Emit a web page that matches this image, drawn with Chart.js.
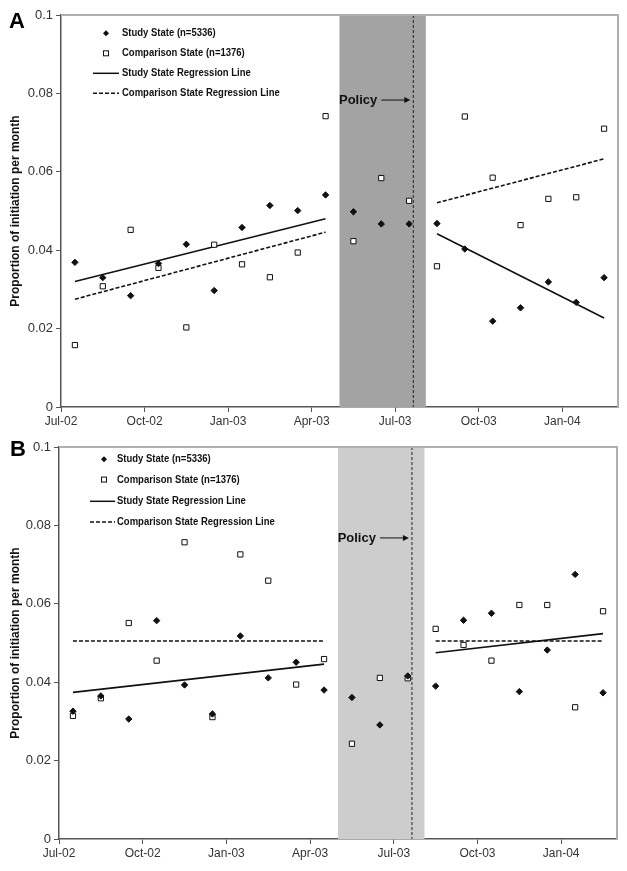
<!DOCTYPE html>
<html>
<head>
<meta charset="utf-8">
<script src="https://cdn.jsdelivr.net/npm/chart.js@4.4.0/dist/chart.umd.min.js"></script>
<style>
  body { margin: 0; background: #fff; }
  .panel { position: absolute; left: 0; width: 627px; }
  #panelA { top: 0; height: 435px; }
  #panelB { top: 435px; height: 436px; }
</style>
</head>
<body>
<div class="panel" id="panelA"><canvas id="chartA" width="627" height="435"></canvas></div>
<div class="panel" id="panelB"><canvas id="chartB" width="627" height="436"></canvas></div>
<script>
// months since Jul-02, points sit mid-month
const months = [0.5,1.5,2.5,3.5,4.5,5.5,6.5,7.5,8.5,9.5,10.5,11.5,12.5,13.5,14.5,15.5,16.5,17.5,18.5,19.5];
const tickVals = [0, 3, 6, 9, 12, 15, 18];
const tickLabels = ["Jul-02","Oct-02","Jan-03","Apr-03","Jul-03","Oct-03","Jan-04"];
const yTicks = [0, 0.02, 0.04, 0.06, 0.08, 0.1];

const legendLabels = ["Study State (n=5336)", "Comparison State (n=1376)", "Study State Regression Line", "Comparison State Regression Line"];

// policy window (months) and policy date
const windowStart = 10, windowEnd = 13.1, policyMonth = 12.65;

// panel A
const studyA = [0.0369,0.0330,0.0284,0.0366,0.0415,0.0297,0.0458,0.0514,0.0501,0.0541,0.0498,0.0467,0.0467,0.0468,0.0403,0.0219,0.0253,0.0319,0.0267,0.0330];
const compA  = [0.0158,0.0308,0.0452,0.0355,0.0203,0.0414,0.0364,0.0331,0.0394,0.0742,0.0423,0.0584,0.0526,0.0359,0.0741,0.0585,0.0464,0.0531,0.0535,0.0710];
const regMonthsPre = [0.5, 9.5];
const regMonthsPost = [13.5, 19.5];
const studyRegPreA  = [0.0320, 0.0480];
const compRegPreA   = [0.0275, 0.0446];
const studyRegPostA = [0.0442, 0.0227];
const compRegPostA  = [0.0521, 0.0633];

// panel B
const studyB = [0.0326,0.0365,0.0306,0.0557,0.0393,0.0319,0.0518,0.0411,0.0451,0.0380,0.0361,0.0291,0.0416,0.0390,0.0558,0.0576,0.0376,0.0482,0.0675,0.0373];
const compB  = [0.0314,0.0359,0.0551,0.0455,0.0757,0.0311,0.0726,0.0659,0.0394,0.0459,0.0243,0.0411,0.0410,0.0536,0.0495,0.0455,0.0597,0.0597,0.0336,0.0581];
const studyRegPreB  = [0.0374, 0.0446];
const compRegPreB   = [0.0505, 0.0505];
const studyRegPostB = [0.0475, 0.0524];
const compRegPostB  = [0.0505, 0.0505];

function pts(xs, ys) {
  return xs.map((x, i) => ({ x: x, y: ys[i] }));
}

const decorPlugin = {
  id: "decor",
  beforeDatasetsDraw(chart, args, o) {
    const { ctx, chartArea: a, scales: { x, y } } = chart;
    ctx.save();
    // shaded policy window
    ctx.fillStyle = o.shade;
    const x0 = x.getPixelForValue(windowStart), x1 = x.getPixelForValue(windowEnd);
    ctx.fillRect(x0, a.top, x1 - x0, a.bottom - a.top);
    // policy line
    const px = x.getPixelForValue(policyMonth);
    ctx.strokeStyle = "#222";
    ctx.lineWidth = 1;
    ctx.setLineDash([3, 2]);
    ctx.beginPath();
    ctx.moveTo(px, a.top);
    ctx.lineTo(px, a.bottom);
    ctx.stroke();
    ctx.setLineDash([]);
    // top / right frame
    ctx.strokeStyle = "#b0b0b0";
    ctx.lineWidth = 2;
    ctx.beginPath();
    ctx.moveTo(a.left, a.top);
    ctx.lineTo(a.right, a.top);
    ctx.lineTo(a.right, a.bottom);
    ctx.stroke();
    ctx.restore();
  },
  afterDraw(chart, args, o) {
    const { ctx, chartArea: a, scales: { x, y } } = chart;
    ctx.save();
    // Policy label and arrow
    const px = x.getPixelForValue(policyMonth);
    const py = y.getPixelForValue(o.policyY);
    ctx.fillStyle = "#111";
    ctx.font = "bold 13px 'Liberation Sans', Arial, sans-serif";
    ctx.textAlign = "right";
    ctx.textBaseline = "middle";
    ctx.fillText("Policy", px - 36, py);
    ctx.strokeStyle = "#111";
    ctx.lineWidth = 1;
    ctx.beginPath();
    ctx.moveTo(px - 32, py);
    ctx.lineTo(px - 8, py);
    ctx.stroke();
    ctx.beginPath();
    ctx.moveTo(px - 3, py);
    ctx.lineTo(px - 9, py - 3);
    ctx.lineTo(px - 9, py + 3);
    ctx.closePath();
    ctx.fill();

    // legend
    const L = o.legend;
    ctx.font = "bold 10px 'Liberation Sans Narrow', 'Arial Narrow', 'Liberation Sans', sans-serif";
    ctx.textAlign = "left";
    legendLabels.forEach((lab, i) => {
      const ry = a.top + L.rows[i];
      ctx.fillStyle = "#111";
      ctx.save();
      ctx.translate(a.left + L.text, ry);
      ctx.scale(0.95, 1.1);
      ctx.fillText(lab, 0, 0);
      ctx.restore();
      const mx = a.left + L.marker;
      if (i === 0) {
        ctx.beginPath();
        ctx.moveTo(mx, ry - 3); ctx.lineTo(mx + 3, ry); ctx.lineTo(mx, ry + 3); ctx.lineTo(mx - 3, ry);
        ctx.closePath();
        ctx.fill();
      } else if (i === 1) {
        ctx.fillStyle = "#fff";
        ctx.strokeStyle = "#111";
        ctx.lineWidth = 1;
        ctx.fillRect(mx - 2.5, ry - 2.5, 5, 5);
        ctx.strokeRect(mx - 2.5, ry - 2.5, 5, 5);
      } else {
        ctx.strokeStyle = "#111";
        ctx.lineWidth = 1.5;
        ctx.setLineDash(i === 3 ? [4, 2] : []);
        ctx.beginPath();
        ctx.moveTo(a.left + L.line0, ry);
        ctx.lineTo(a.left + L.line1, ry);
        ctx.stroke();
        ctx.setLineDash([]);
      }
    });

    // panel letter
    ctx.fillStyle = "#000";
    ctx.font = "bold 22px 'Liberation Sans', Arial, sans-serif";
    ctx.textAlign = "left";
    ctx.textBaseline = "alphabetic";
    ctx.fillText(o.letter, o.letterX, o.letterY);
    ctx.restore();
  }
};

function makeChart(id, p) {
  const ctx = document.getElementById(id).getContext("2d");
  const scatter = (data, style, bg) => ({
    type: "scatter",
    data: data,
    pointStyle: style,
    pointRadius: style === "rect" ? 3.7 : 3.2,
    pointBackgroundColor: bg,
    pointBorderColor: "#111",
    pointBorderWidth: 1,
    showLine: false,
    order: 1
  });
  const reg = (data, dash) => ({
    type: "line",
    data: data,
    borderColor: "#111",
    borderWidth: 1.6,
    borderDash: dash,
    pointRadius: 0,
    fill: false,
    order: 2
  });
  return new Chart(ctx, {
    type: "scatter",
    data: {
      datasets: [
        reg(pts(regMonthsPre, p.studyRegPre), []),
        reg(pts(regMonthsPre, p.compRegPre), [4, 2]),
        reg(pts(regMonthsPost, p.studyRegPost), []),
        reg(pts(regMonthsPost, p.compRegPost), [4, 2]),
        scatter(pts(months, p.study), "rectRot", "#111"),
        scatter(pts(months, p.comp), "rect", "#fff")
      ]
    },
    options: {
      responsive: false,
      animation: false,
      devicePixelRatio: 1,
      layout: { padding: { top: p.padTop, right: p.padRight, left: 0, bottom: 0 } },
      plugins: {
        legend: { display: false },
        tooltip: { enabled: false },
        decor: {
          shade: p.shade,
          policyY: p.policyY,
          legend: p.legend,
          letter: p.letter,
          letterX: p.letterX,
          letterY: p.letterY
        }
      },
      scales: {
        x: {
          type: "linear",
          min: 0,
          max: 20,
          afterBuildTicks: (s) => { s.ticks = tickVals.map(v => ({ value: v })); },
          afterFit: (s) => { s.height = p.xHeight; },
          ticks: {
            callback: (v) => tickLabels[tickVals.indexOf(v)],
            color: "#333",
            font: { family: "'Liberation Sans', Arial, sans-serif", size: 12 },
            maxRotation: 0,
            autoSkip: false,
            padding: 2
          },
          grid: { drawOnChartArea: false, tickLength: 5, color: "#555" },
          border: { color: "#555", width: 1.5 }
        },
        y: {
          min: 0,
          max: 0.1,
          afterBuildTicks: (s) => { s.ticks = yTicks.map(v => ({ value: v })); },
          afterFit: (s) => { s.width = p.yWidth; },
          ticks: {
            callback: (v) => String(v),
            color: "#333",
            font: { family: "'Liberation Sans', Arial, sans-serif", size: 13 },
            padding: 3
          },
          grid: { drawOnChartArea: false, tickLength: 5, color: "#555" },
          border: { color: "#555", width: 1.5 },
          title: {
            display: true,
            text: "Proportion of initiation per month",
            color: "#111",
            font: { family: "'Liberation Sans', Arial, sans-serif", size: 12, weight: "bold" },
            padding: { top: 8, bottom: 0 }
          }
        }
      }
    },
    plugins: [decorPlugin]
  });
}

makeChart("chartA", {
  study: studyA, comp: compA,
  studyRegPre: studyRegPreA, compRegPre: compRegPreA,
  studyRegPost: studyRegPostA, compRegPost: compRegPostA,
  shade: "#a3a3a3", policyY: 0.0783,
  padTop: 15, padRight: 9, xHeight: 28, yWidth: 61,
  legend: { marker: 45, text: 61, line0: 32, line1: 58, rows: [18.3, 38.3, 58.3, 78.3] },
  letter: "A", letterX: 9, letterY: 28
});

makeChart("chartB", {
  study: studyB, comp: compB,
  studyRegPre: studyRegPreB, compRegPre: compRegPreB,
  studyRegPost: studyRegPostB, compRegPost: compRegPostB,
  shade: "#cdcdcd", policyY: 0.0768,
  padTop: 12, padRight: 10, xHeight: 32, yWidth: 59,
  legend: { marker: 45, text: 58, line0: 31, line1: 56, rows: [12.3, 32.6, 54.3, 75] },
  letter: "B", letterX: 10, letterY: 21
});
</script>
</body>
</html>
